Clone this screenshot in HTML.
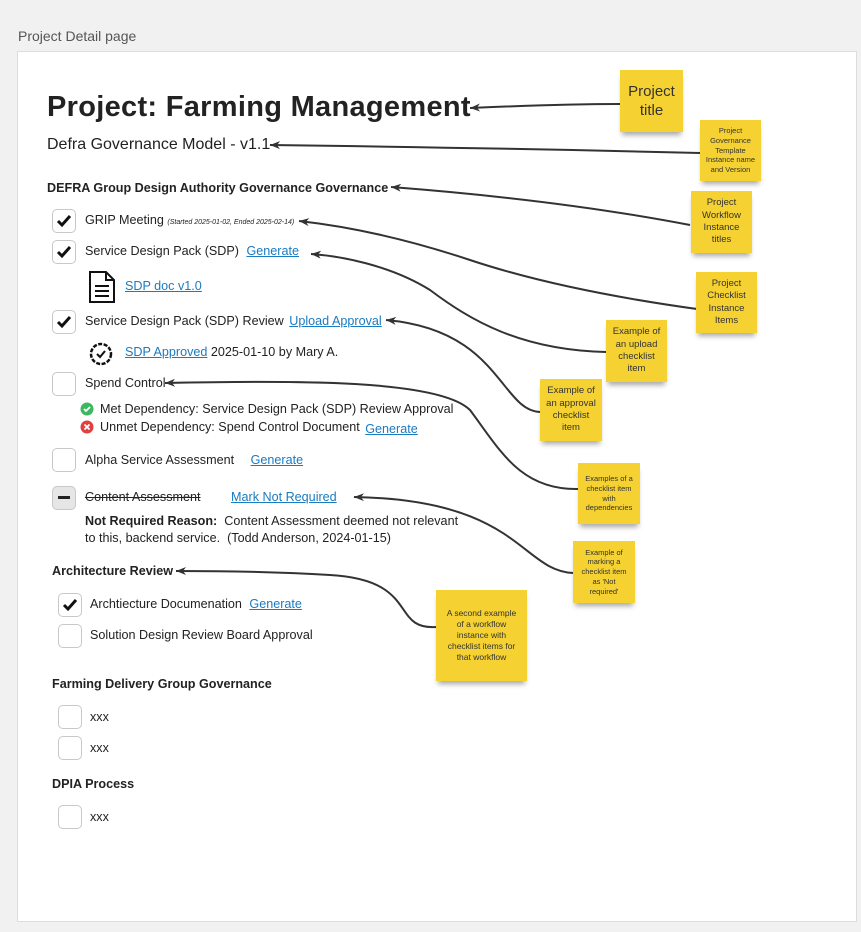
<!DOCTYPE html>
<html><head><meta charset="utf-8"><style>
body{margin:0;width:861px;height:932px;background:#f1f1f1;font-family:"Liberation Sans",sans-serif;color:#222;position:relative;overflow:hidden}
.a{position:absolute;white-space:nowrap}
.panel{position:absolute;left:17px;top:51px;width:838px;height:869px;background:#fff;border:1px solid #ddd}
.cb{position:absolute;width:22px;height:22px;border:1.5px solid #c8c8c8;border-radius:5px;background:#fff}
.cb svg{position:absolute;left:2px;top:2px}
.t{font-size:12.6px;color:#222}
.lk{color:#1a7bc0;text-decoration:underline;font-size:12.6px}
.h{font-weight:bold;font-size:12.6px}
.st{position:absolute;background:#f5d232;box-shadow:0 5px 5px -2px rgba(0,0,0,.35);display:flex;align-items:center;justify-content:center;text-align:center;color:#333;line-height:1.3}
</style></head><body>
<div class="a" style="left:18px;top:28px;font-size:14px;color:#555">Project Detail page</div>
<div class="panel"></div>

<div class="a" style="left:47px;top:91px;font-size:29px;font-weight:bold;color:#222;letter-spacing:0.3px">Project: Farming Management</div>
<div class="a" style="left:47px;top:136px;font-size:16px">Defra Governance Model - v1.1</div>
<div class="a h" style="left:47px;top:181px">DEFRA Group Design Authority Governance Governance</div>

<div class="cb" style="left:52px;top:209px"><svg width="18" height="18"><path d="M3 9l4 4 8-9" stroke="#111" stroke-width="3" fill="none"/></svg></div>
<div class="a t" style="left:85px;top:213px">GRIP Meeting <span style="font-size:7px;font-style:italic">(Started 2025-01-02, Ended 2025-02-14)</span></div>
<div class="cb" style="left:52px;top:240px"><svg width="18" height="18"><path d="M3 9l4 4 8-9" stroke="#111" stroke-width="3" fill="none"/></svg></div>
<div class="a t" style="left:85px;top:244px">Service Design Pack (SDP) <span class="lk" style="margin-left:4px">Generate</span></div>
<svg class="a" style="left:88px;top:270px" width="28" height="34"><path d="M2 2h16l8 8v22H2z M18 2v8h8" stroke="#111" stroke-width="2" fill="#fff"/><path d="M7 16h14M7 21h14M7 26h14" stroke="#111" stroke-width="2"/></svg>
<div class="a lk" style="left:125px;top:279px">SDP doc v1.0</div>
<div class="cb" style="left:52px;top:310px"><svg width="18" height="18"><path d="M3 9l4 4 8-9" stroke="#111" stroke-width="3" fill="none"/></svg></div>
<div class="a t" style="left:85px;top:314px">Service Design Pack (SDP) Review <span class="lk" style="margin-left:2px">Upload Approval</span></div>
<svg class="a" style="left:87px;top:340px" width="28" height="28"><circle cx="14" cy="14" r="10" stroke="#111" stroke-width="2.5" fill="none" stroke-dasharray="4 1.5"/><path d="M10 14l3 3 5-6" stroke="#111" stroke-width="2" fill="none"/></svg>
<div class="a t" style="left:125px;top:345px"><span class="lk">SDP Approved</span> 2025-01-10 by Mary A.</div>
<div class="cb" style="left:52px;top:372px"></div>
<div class="a t" style="left:85px;top:376px">Spend Control</div>
<svg class="a" style="left:80px;top:402px" width="14" height="34"><circle cx="7" cy="7" r="6.5" fill="#3cb860"/><path d="M4 7l2 2 4-4" stroke="#fff" stroke-width="1.8" fill="none"/><circle cx="7" cy="25" r="6.5" fill="#e04040"/><path d="M4.5 22.5l5 5M9.5 22.5l-5 5" stroke="#fff" stroke-width="1.8"/></svg>
<div class="a t" style="left:100px;top:402px">Met Dependency: Service Design Pack (SDP) Review Approval</div>
<div class="a t" style="left:100px;top:420px">Unmet Dependency: Spend Control Document <span class="lk" style="margin-left:2px;position:relative;top:2px">Generate</span></div>
<div class="cb" style="left:52px;top:448px"></div>
<div class="a t" style="left:85px;top:453px">Alpha Service Assessment <span class="lk" style="margin-left:13px">Generate</span></div>
<div class="cb" style="left:52px;top:486px;background:#e6e6e6"><div style="position:absolute;left:5px;top:9px;width:12px;height:3px;background:#222"></div></div>
<div class="a t" style="left:85px;top:490px;text-decoration:line-through">Content Assessment</div>
<div class="a lk" style="left:231px;top:490px">Mark Not Required</div>
<div class="a t" style="left:85px;top:513px;line-height:17px"><b>Not Required Reason:</b>&nbsp; Content Assessment deemed not relevant<br>to this, backend service.&nbsp; (Todd Anderson, 2024-01-15)</div>

<div class="a h" style="left:52px;top:564px">Architecture Review</div>
<div class="cb" style="left:58px;top:593px"><svg width="18" height="18"><path d="M3 9l4 4 8-9" stroke="#111" stroke-width="3" fill="none"/></svg></div>
<div class="a t" style="left:90px;top:597px">Archtiecture Documenation <span class="lk" style="margin-left:4px">Generate</span></div>
<div class="cb" style="left:58px;top:624px"></div>
<div class="a t" style="left:90px;top:628px">Solution Design Review Board Approval</div>

<div class="a h" style="left:52px;top:677px">Farming Delivery Group Governance</div>
<div class="cb" style="left:58px;top:705px"></div><div class="a t" style="left:90px;top:710px">xxx</div>
<div class="cb" style="left:58px;top:736px"></div><div class="a t" style="left:90px;top:741px">xxx</div>
<div class="a h" style="left:52px;top:777px">DPIA Process</div>
<div class="cb" style="left:58px;top:805px"></div><div class="a t" style="left:90px;top:810px">xxx</div>

<svg class="a" style="left:0;top:0" width="861" height="932">
<defs><marker id="ar" markerUnits="userSpaceOnUse" markerWidth="10" markerHeight="8" refX="10" refY="4" orient="auto" viewBox="0 0 10 8"><path d="M10 4L0 0L3 4L0 8z" fill="#333"/></marker></defs>
<g stroke="#333" stroke-width="2" fill="none" marker-end="url(#ar)">
<path d="M620 104 Q560 104 470 108"/>
<path d="M700 153 Q500 148 270 145"/>
<path d="M690 225 Q560 200 391 187"/>
<path d="M697 309 Q560 290 470 260 Q380 230 299 221"/>
<path d="M606 352 C520 350 470 320 430 290 C390 265 340 256 311 254"/>
<path d="M540 412 C500 410 500 330 386 320"/>
<path d="M578 489 C520 490 500 450 470 410 C440 380 300 380 165 383"/>
<path d="M573 573 C520 570 520 500 354 497"/>
<path d="M436 627 C390 630 420 580 330 575 C280 572 220 571 176 571"/>
</g></svg>

<div class="st" style="left:620px;top:70px;width:63px;height:62px;font-size:15px">Project<br>title</div>
<div class="st" style="left:700px;top:120px;width:61px;height:61px;font-size:7.5px">Project<br>Governance<br>Template<br>Instance name<br>and Version</div>
<div class="st" style="left:691px;top:191px;width:61px;height:62px;font-size:9.5px">Project<br>Workflow<br>Instance<br>titles</div>
<div class="st" style="left:696px;top:272px;width:61px;height:61px;font-size:9.5px">Project<br>Checklist<br>Instance<br>Items</div>
<div class="st" style="left:606px;top:320px;width:61px;height:62px;font-size:9.5px">Example of<br>an upload<br>checklist<br>item</div>
<div class="st" style="left:540px;top:379px;width:62px;height:62px;font-size:9.5px">Example of<br>an approval<br>checklist<br>item</div>
<div class="st" style="left:578px;top:463px;width:62px;height:61px;font-size:7.5px">Examples of a<br>checklist item<br>with<br>dependencies</div>
<div class="st" style="left:573px;top:541px;width:62px;height:62px;font-size:7.5px">Example of<br>marking a<br>checklist item<br>as 'Not<br>required'</div>
<div class="st" style="left:436px;top:590px;width:91px;height:91px;font-size:8.5px">A second example<br>of a workflow<br>instance with<br>checklist items for<br>that workflow</div>
</body></html>
